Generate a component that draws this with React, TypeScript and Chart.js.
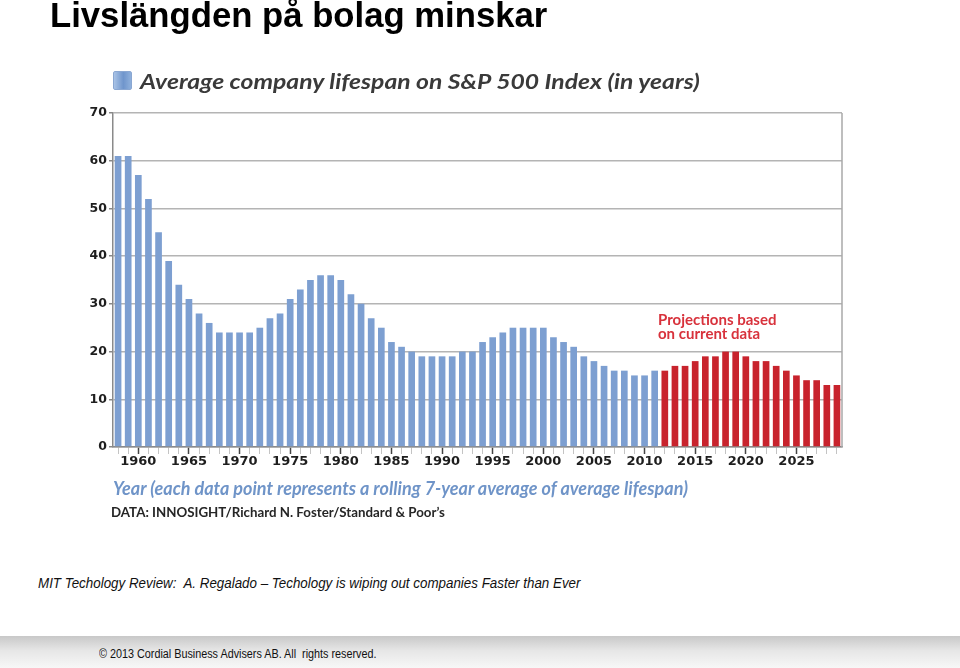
import React, { useEffect, useRef } from "react";
import { Chart, registerables } from "chart.js";

Chart.register(...registerables);

const years = [
  1958, 1959, 1960, 1961, 1962, 1963, 1964, 1965, 1966, 1967,
  1968, 1969, 1970, 1971, 1972, 1973, 1974, 1975, 1976, 1977,
  1978, 1979, 1980, 1981, 1982, 1983, 1984, 1985, 1986, 1987,
  1988, 1989, 1990, 1991, 1992, 1993, 1994, 1995, 1996, 1997,
  1998, 1999, 2000, 2001, 2002, 2003, 2004, 2005, 2006, 2007,
  2008, 2009, 2010, 2011, 2012, 2013, 2014, 2015, 2016, 2017,
  2018, 2019, 2020, 2021, 2022, 2023, 2024, 2025, 2026, 2027,
  2028, 2029,
];

// 1958–2011
const historical = [
  61, 61, 57, 52, 45, 39, 34, 31, 28, 26,
  24, 24, 24, 24, 25, 27, 28, 31, 33, 35,
  36, 36, 35, 32, 30, 27, 25, 22, 21, 20,
  19, 19, 19, 19, 20, 20, 22, 23, 24, 25,
  25, 25, 25, 23, 22, 21, 19, 18, 17, 16,
  16, 15, 15, 16,
];

// 2012–2029
const projections = [16, 17, 17, 18, 19, 19, 20, 20, 19, 18, 18, 17, 16, 15, 14, 14, 13, 13];

const yTicks = [0, 10, 20, 30, 40, 50, 60, 70];

const title = "Livslängden på bolag minskar";
const legendText = "Average company lifespan on S&P 500 Index (in years)";
const projectionNote = ["Projections based", "on current data"];
const axisTitle = "Year (each data point represents a rolling 7-year average of average lifespan)";
const dataSource = "DATA: INNOSIGHT/Richard N. Foster/Standard & Poor\u2019s";
const citation = "MIT Techology Review:  A. Regalado \u2013 Techology is wiping out companies Faster than Ever";
const footer = "\u00a9 2013 Cordial Business Advisers AB. All  rights reserved.";

const frameRight = {
  id: "frameRight",
  afterDatasetsDraw(chart: any) {
    const { ctx, chartArea } = chart;
    ctx.save();
    ctx.strokeStyle = "#a8a8a8";
    ctx.lineWidth = 1.5;
    ctx.beginPath();
    ctx.moveTo(chartArea.right, chartArea.top);
    ctx.lineTo(chartArea.right, chartArea.bottom);
    ctx.stroke();
    ctx.restore();
  },
};

export default function App() {
  const ref = useRef<HTMLCanvasElement | null>(null);

  useEffect(() => {
    if (!ref.current) return;
    const blueData = [...historical, ...projections.map(() => null)];
    const redData = [...historical.map(() => null), ...projections];
    const chart = new Chart(ref.current, {
      type: "bar",
      data: {
        labels: years.map(String),
        datasets: [
          {
            label: "hist",
            data: blueData,
            backgroundColor: "#7d9fd1",
            borderWidth: 0,
            barPercentage: 0.66,
            categoryPercentage: 1,
            grouped: false,
          },
          {
            label: "proj",
            data: redData,
            backgroundColor: "#c8232d",
            borderWidth: 0,
            barPercentage: 0.66,
            categoryPercentage: 1,
            grouped: false,
          },
        ],
      },
      options: {
        responsive: false,
        animation: false,
        devicePixelRatio: 1,
        layout: { padding: { top: 113, right: 118, left: 0, bottom: 0 } },
        plugins: {
          legend: { display: false },
          title: { display: false },
          tooltip: { enabled: false },
        },
        scales: {
          x: {
            offset: true,
            afterFit: (s: any) => {
              s.height = 93;
            },
            grid: {
              offset: false,
              drawOnChartArea: false,
              drawTicks: true,
              tickLength: 7,
              tickColor: (c: any) =>
                years[c.index] % 5 === 0 ? "#444" : "#c4c4c4",
              tickWidth: (c: any) => (years[c.index] % 5 === 0 ? 1.5 : 1),
            },
            border: { display: true, color: "#8a8a8a", width: 1.5 },
            ticks: {
              autoSkip: false,
              maxRotation: 0,
              padding: 0,
              color: "#1e1e1e",
              font: { family: "DejaVu Sans", size: 13, weight: "bold" },
              callback: (_v: any, i: number) =>
                years[i] % 5 === 0 ? String(years[i]) : "",
            },
          },
          y: {
            min: 0,
            max: 70,
            afterFit: (s: any) => {
              s.width = 113;
            },
            afterBuildTicks: (s: any) => {
              s.ticks = yTicks.map((v) => ({ value: v }));
            },
            grid: {
              color: "#b4b4b4",
              lineWidth: 1.5,
              drawTicks: true,
              tickLength: 4,
              tickColor: "#888",
            },
            border: { display: true, color: "#8a8a8a", width: 1.5 },
            ticks: {
              padding: 2,
              color: "#1e1e1e",
              font: { family: "DejaVu Sans", size: 12.5, weight: "bold" },
            },
          },
        },
      },
      plugins: [frameRight],
    });
    return () => chart.destroy();
  }, []);

  const abs = (x: number, y: number): React.CSSProperties => ({
    position: "absolute",
    left: x,
    top: y,
    whiteSpace: "pre",
    margin: 0,
  });

  return (
    <div
      style={{
        position: "fixed",
        left: 0,
        top: 0,
        width: 960,
        height: 668,
        background: "#fff",
        overflow: "hidden",
      }}
    >
      <canvas
        ref={ref}
        width={960}
        height={540}
        style={{ position: "absolute", left: 0, top: 0, width: 960, height: 540 }}
      />
      <div
        style={{
          ...abs(50, -4),
          fontFamily: "'Liberation Sans', Arial, sans-serif",
          fontWeight: "bold",
          fontSize: 34.7,
          color: "#000",
        }}
      >
        {title}
      </div>
      <div
        style={{
          ...abs(113, 71),
          width: 19,
          height: 19,
          borderRadius: 2,
          background: "linear-gradient(90deg, #a9c3e6, #6f95cc 55%, #8fb0dc)",
          border: "1px solid #8aa7d2",
          boxSizing: "border-box",
        }}
      />
      <div
        style={{
          ...abs(140, 68),
          fontFamily: "Lato, sans-serif",
          fontWeight: "bold",
          fontStyle: "italic",
          fontSize: 21,
          color: "#3a3a3a",
          transform: "scaleX(1.176)",
          transformOrigin: "0 0",
        }}
      >
        {legendText}
      </div>
      <div
        style={{
          ...abs(658, 312),
          fontFamily: "Lato, sans-serif",
          fontWeight: "bold",
          fontSize: 15,
          lineHeight: "14px",
          color: "#d8323c",
        }}
      >
        {projectionNote.join("\n")}
      </div>
      <div
        style={{
          ...abs(113, 477),
          fontFamily: "Lato, sans-serif",
          fontWeight: "bold",
          fontStyle: "italic",
          fontSize: 18,
          color: "#6f94c8",
        }}
      >
        {axisTitle}
      </div>
      <div
        style={{
          ...abs(111, 504),
          fontFamily: "Lato, sans-serif",
          fontWeight: "bold",
          fontSize: 13.3,
          color: "#262626",
        }}
      >
        {dataSource}
      </div>
      <div
        style={{
          ...abs(38, 575),
          fontFamily: "'Liberation Sans', Arial, sans-serif",
          fontStyle: "italic",
          fontSize: 14.5,
          color: "#111",
          transform: "scaleX(0.922)",
          transformOrigin: "0 0",
        }}
      >
        {citation}
      </div>
      <div
        style={{
          position: "absolute",
          left: 0,
          top: 636,
          width: 960,
          height: 32,
          background: "linear-gradient(180deg, #c8c8c8 0%, #e6e6e6 45%, #f7f7f7 100%)",
        }}
      />
      <div
        style={{
          ...abs(99, 647),
          fontFamily: "'Liberation Sans', Arial, sans-serif",
          fontSize: 12,
          color: "#111",
          transform: "scaleX(0.9)",
          transformOrigin: "0 0",
        }}
      >
        {footer}
      </div>
    </div>
  );
}
